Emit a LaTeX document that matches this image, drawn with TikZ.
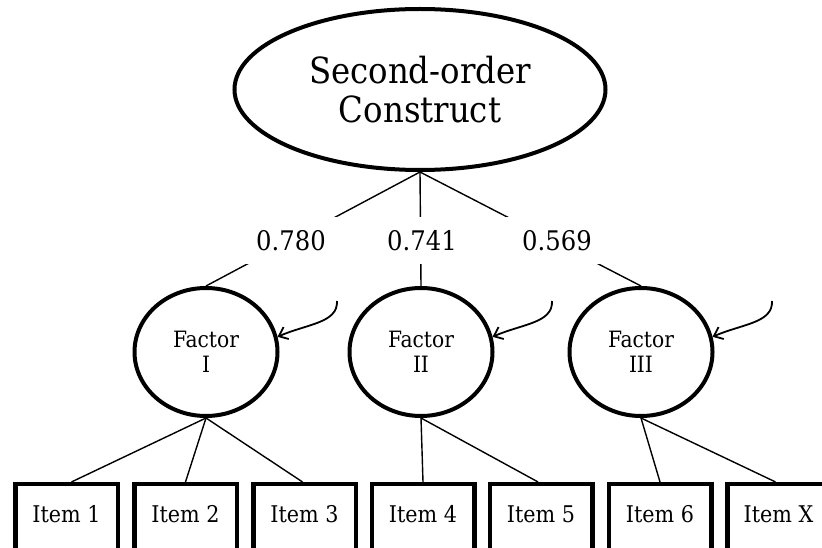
\documentclass[tikz,border=0pt]{standalone}
\usepackage{fontspec}
\setmainfont{DejaVu Serif Condensed}
\usetikzlibrary{shapes.geometric,arrows.meta}
\begin{document}
\begin{tikzpicture}[x=1pt,y=-1pt,
  construct/.style={ellipse,draw,line width=4pt,minimum width=371pt,minimum height=161pt,inner sep=0pt,align=center,font=\fontsize{36}{39}\selectfont},
  factor/.style={ellipse,draw,line width=4pt,minimum width=143pt,minimum height=128pt,inner sep=0pt,align=center,font=\fontsize{22.5}{25}\selectfont},
  itembox/.style={rectangle,draw,line width=4.5pt,minimum width=102.5pt,minimum height=72pt,inner sep=0pt,text height=14pt,text depth=0pt,font=\fontsize{23}{26}\selectfont},
  load/.style={fill=white,minimum width=104pt,minimum height=47pt,inner sep=0pt,font=\fontsize{27}{30}\selectfont},
  link/.style={line width=1.4pt},
  resid/.style={line width=1.8pt,-{Straight Barb[length=8pt,width=13pt]}}
]
\useasboundingbox (0,0) rectangle (822,548);
\clip (0,0) rectangle (822,548);

\node[construct] (top) at (420,89.5) {Second-order\\Construct};

\node[factor] (f1) at (206,352) {Factor\\I};
\node[factor] (f2) at (421,352) {Factor\\II};
\node[factor] (f3) at (641,352) {Factor\\III};

\node[itembox] (i1) at (66.5,520.2) {\raisebox{5pt}{Item 1}};
\node[itembox] (i2) at (185.5,520.2) {\raisebox{5pt}{Item 2}};
\node[itembox] (i3) at (304.5,520.2) {\raisebox{5pt}{Item 3}};
\node[itembox] (i4) at (423,520.2) {\raisebox{5pt}{Item 4}};
\node[itembox] (i5) at (541,520.2) {\raisebox{5pt}{Item 5}};
\node[itembox] (i6) at (660,520.2) {\raisebox{5pt}{Item 6}};
\node[itembox] (i7) at (778.5,520.2) {\raisebox{5pt}{Item X}};

\draw[link] (top.south) -- (f1.north);
\draw[link] (top.south) -- (f2.north);
\draw[link] (top.south) -- (f3.north);

\node[load] (l1) at (291,240.5) {0.780};
\node[load] (l2) at (422,240.5) {0.741};
\node[load] (l3) at (557,240.5) {0.569};

\draw[link] (f1.south) -- ([xshift=5pt]i1.north);
\draw[link] (f1.south) -- (i2.north);
\draw[link] (f1.south) -- ([xshift=-2pt]i3.north);
\draw[link] (f2.south) -- (i4.north);
\draw[link] (f2.south) -- ([xshift=-3pt]i5.north);
\draw[link] (f3.south) -- (i6.north);
\draw[link] (f3.south) -- ([xshift=-3pt]i7.north);

\coordinate (r1) at (337,301);
\coordinate (r2) at (552,301);
\coordinate (r3) at (772,301);
\draw[resid] (r1) .. controls +(1,22) and +(30,-13) .. (f1.12);
\draw[resid] (r2) .. controls +(1,22) and +(30,-13) .. (f2.12);
\draw[resid] (r3) .. controls +(1,22) and +(30,-13) .. (f3.12);
\end{tikzpicture}
\end{document}
